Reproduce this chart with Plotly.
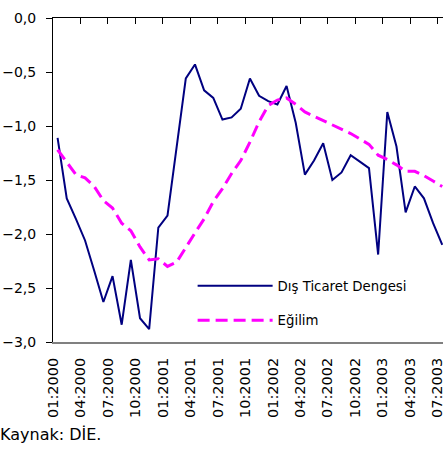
import plotly.graph_objects as go

months = ["01:2000","02:2000","03:2000","04:2000","05:2000","06:2000","07:2000","08:2000","09:2000","10:2000","11:2000","12:2000",
          "01:2001","02:2001","03:2001","04:2001","05:2001","06:2001","07:2001","08:2001","09:2001","10:2001","11:2001","12:2001",
          "01:2002","02:2002","03:2002","04:2002","05:2002","06:2002","07:2002","08:2002","09:2002","10:2002","11:2002","12:2002",
          "01:2003","02:2003","03:2003","04:2003","05:2003","06:2003","07:2003"]

dis_ticaret = [-1.11, -1.67, -1.86, -2.06, -2.34, -2.63, -2.39, -2.84, -2.24, -2.78, -2.88, -1.94,
               -1.83, -1.20, -0.56, -0.43, -0.67, -0.74, -0.94, -0.92, -0.84, -0.56, -0.72, -0.77,
               -0.80, -0.63, -0.97, -1.45, -1.32, -1.16, -1.50, -1.43, -1.27, -1.33, -1.39, -2.19,
               -0.87, -1.19, -1.80, -1.56, -1.67, -1.90, -2.10]

egilim = [-1.22, -1.33, -1.45, -1.48, -1.56, -1.69, -1.76, -1.90, -1.97, -2.12, -2.24, -2.23,
          -2.30, -2.26, -2.12, -1.99, -1.86, -1.70, -1.58, -1.44, -1.32, -1.15, -0.96, -0.81,
          -0.76, -0.74, -0.80, -0.87, -0.91, -0.95, -0.99, -1.03, -1.07, -1.12, -1.17, -1.27,
          -1.31, -1.36, -1.42, -1.42, -1.46, -1.51, -1.56]

tick_labels = ["01:2000","04:2000","07:2000","10:2000","01:2001","04:2001","07:2001","10:2001",
               "01:2002","04:2002","07:2002","10:2002","01:2003","04:2003","07:2003"]

y_ticks = [0.0, -0.5, -1.0, -1.5, -2.0, -2.5, -3.0]

x = list(range(len(months)))
tick_pos = [months.index(t) - 0.5 for t in tick_labels]
FONT = "DejaVu Sans"

fig = go.Figure()
fig.add_trace(go.Scatter(x=x, y=dis_ticaret, mode="lines", name="Dış Ticaret Dengesi",
                         line=dict(color="#000080", width=2), legendgroup="a"))
fig.add_trace(go.Scatter(x=x, y=egilim, mode="lines", name="Eğilim",
                         line=dict(color="#FF00FF", width=3, dash="12px,6px"), legendgroup="b"))
# invisible helper for the top axis
fig.add_trace(go.Scatter(x=x, y=egilim, mode="lines", xaxis="x2", showlegend=False,
                         hoverinfo="skip", line=dict(width=0), opacity=0))

xr = [-0.5, 42.08]
fig.update_layout(
    width=443, height=452,
    margin=dict(l=53, r=0, t=18, b=110, autoexpand=False),
    paper_bgcolor="white", plot_bgcolor="white",
    separators=",.",
    font=dict(family=FONT, size=14, color="black"),
    showlegend=True,
    legend=dict(x=0.358, y=0.22, xanchor="left", yanchor="top",
                bgcolor="rgba(0,0,0,0)", font=dict(family=FONT, size=13.3),
                itemwidth=75, tracegroupgap=14),
    xaxis=dict(range=xr, tickmode="array", tickvals=tick_pos, ticktext=tick_labels,
               tickangle=-90, ticks="", showgrid=False, zeroline=False, automargin=False,
               showline=True, linecolor="#808080", linewidth=2, ticklabelstandoff=8,
               ticklabeloverflow="allow", tickfont=dict(family=FONT, size=14.5)),
    xaxis2=dict(range=xr, overlaying="x", side="top", tickmode="array", tickvals=tick_pos,
                ticks="inside", ticklen=6, tickcolor="black", showticklabels=False, automargin=False,
                showgrid=False, zeroline=False, showline=True, linecolor="black", linewidth=1),
    yaxis=dict(range=[-3, 0], tickmode="array", tickvals=y_ticks, tickformat=".1f",
               ticks="outside", ticklen=6, tickcolor="black", showgrid=False, zeroline=False,
               showline=True, linecolor="black", linewidth=1, automargin=False,
               ticklabelstandoff=7, ticklabeloverflow="allow",
               tickfont=dict(family=FONT, size=14)),
)
fig.add_annotation(text="Kaynak: DİE.", xref="paper", yref="paper", x=-55/390, y=-104/324,
                   xanchor="left", yanchor="bottom", showarrow=False,
                   font=dict(family=FONT, size=16))
fig.write_html("out.html", config={"displayModeBar": False},
               post_script="document.body.style.margin='0';document.body.style.overflow='hidden';")
